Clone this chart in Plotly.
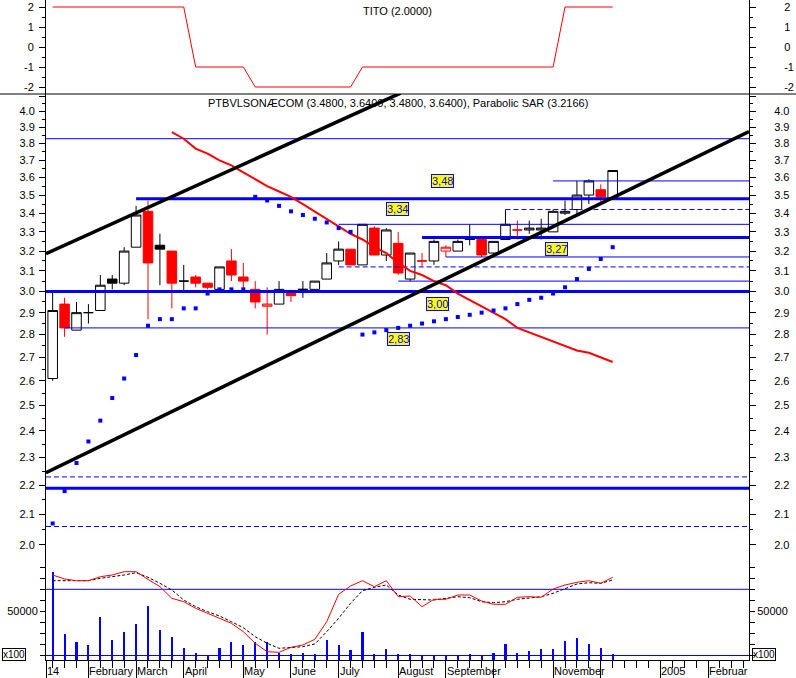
import math
import plotly.graph_objects as go

# ------------------------------------------------------------------ data
OPEN  = [2.61, 2.94, 2.82, 2.90, 2.91, 3.06, 3.04, 3.22, 3.41, 3.23,
         3.20, 3.05, 3.07, 3.04, 3.01, 3.15, 3.07, 3.01, 2.93, 2.94,
         2.99, 3.01, 3.01, 3.06, 3.15, 3.21, 3.13, 3.32, 3.18, 3.24,
         3.06, 3.15, 3.15, 3.20, 3.20, 3.26, 3.26, 3.19, 3.26, 3.31,
         3.31, 3.31, 3.30, 3.40, 3.42, 3.50, 3.53, 3.48]
HIGH  = [3.00, 2.97, 2.95, 2.94, 3.08, 3.08, 3.22, 3.44, 3.47, 3.29,
         3.20, 3.13, 3.08, 3.04, 3.12, 3.21, 3.14, 3.05, 3.02, 3.05,
         2.99, 3.05, 3.05, 3.19, 3.25, 3.21, 3.34, 3.33, 3.32, 3.30,
         3.19, 3.19, 3.26, 3.23, 3.26, 3.34, 3.26, 3.25, 3.42, 3.36,
         3.36, 3.37, 3.42, 3.47, 3.58, 3.59, 3.56, 3.64]
LOW   = [2.60, 2.79, 2.82, 2.85, 2.91, 3.01, 3.03, 3.22, 2.87, 3.03,
         2.92, 3.00, 3.02, 3.01, 3.00, 3.05, 3.01, 2.92, 2.80, 2.94,
         2.95, 2.97, 3.01, 3.06, 3.13, 3.13, 3.13, 3.18, 3.15, 3.08,
         3.05, 3.12, 3.13, 3.17, 3.20, 3.23, 3.17, 3.17, 3.26, 3.26,
         3.29, 3.26, 3.30, 3.39, 3.38, 3.45, 3.45, 3.48]
CLOSE = [2.91, 2.83, 2.90, 2.90, 3.03, 3.04, 3.20, 3.39, 3.14, 3.21,
         3.04, 3.05, 3.04, 3.02, 3.12, 3.08, 3.05, 2.95, 2.94, 3.01,
         2.98, 3.01, 3.05, 3.14, 3.21, 3.13, 3.34, 3.18, 3.31, 3.09,
         3.19, 3.15, 3.25, 3.22, 3.25, 3.26, 3.18, 3.25, 3.34, 3.31,
         3.32, 3.32, 3.41, 3.41, 3.50, 3.58, 3.49, 3.64]

VOLUME = [95200, 24400, 15700, 11900, 44100, 17600, 27000, 35800, 56200, 29000,
          21000, 8200, 2800, 0, 8500, 15300, 11900, 15300, 15700, 3200,
          1700, 2800, 1700, 17600, 11900, 6200, 26700, 1700, 7000, 1700,
          1700, 0, 0, 0, 0, 1700, 0, 2800, 13100, 2800,
          5500, 7400, 7400, 16500, 19900, 13100, 8500, 1700]

SAR = [2.07, 2.18, 2.28, 2.36, 2.44, 2.53, 2.61, 2.71, 2.84, 2.87,
       2.87, 2.92, 2.92, 2.99, 3.01, 3.01, 3.01, 3.49, 3.47, 3.44,
       3.41, 3.39, 3.37, 3.35, 3.32, 3.30, 2.80, 2.81, 2.82, 2.83,
       2.84, 2.85, 2.86, 2.87, 2.88, 2.89, 2.90, 2.91, 2.92, 2.94,
       2.96, 2.97, 2.99, 3.02, 3.06, 3.11, 3.16, 3.22]

MOVING_AVG = [None, None, None, None, None, None, None, None, None, None,
              3.87, 3.83, 3.77, 3.74, 3.70, 3.67, 3.63, 3.59, 3.55, 3.52,
              3.49, 3.45, 3.41, 3.37, 3.33, 3.29, 3.26, 3.22, 3.19, 3.14,
              3.10, 3.08, 3.05, 3.03, 2.99, 2.96, 2.93, 2.90, 2.87, 2.83,
              2.81, 2.79, 2.77, 2.75, 2.73, 2.72, 2.70, 2.68]

OSC_FAST = [85, 81, 79.3, 79.3, 83.3, 85, 88.3, 88.3, 80.7, 73.3,
            61.7, 58.3, 51.7, 46.7, 41.7, 36.7, 28.3, 16.7, 8.3, 7.7,
            12.7, 15, 20.7, 38.3, 65.7, 74, 79.3, 73.3, 79.3, 63.3,
            64, 53.3, 60.7, 60.7, 65, 65, 59, 55.7, 55.7, 62.7,
            63.3, 62.7, 71, 75, 77.7, 79.3, 76.7, 82.7]
OSC_SLOW = [79.3, 79.3, 79.3, 79.3, 81.7, 83.3, 85, 87.3, 82.7, 76.7,
            70, 60, 53.3, 48.3, 44, 38.3, 32.3, 23.3, 16.7, 11.7,
            12.7, 13.3, 16, 28.3, 41.7, 56.7, 69.3, 72.7, 75, 65,
            60.7, 60.7, 60, 61.7, 63.3, 62.3, 58.3, 57.3, 58.3, 60.7,
            61.7, 63.3, 66.7, 71.7, 76, 77.3, 76.7, 80]
OSC_LEVEL = 70.7

TITO = [2, 2, 2, 2, 2, 2, 2, 2, 2, 2,
        2, 2, -1, -1, -1, -1, -1, -2, -2, -2,
        -2, -2, -2, -2, -2, -2, -1, -1, -1, -1,
        -1, -1, -1, -1, -1, -1, -1, -1, -1, -1,
        -1, -1, -1, 2, 2, 2, 2, 2]

# horizontal support / resistance levels: (price, first bar or None = whole width)
LEVELS_THICK = [(3.48, 7), (3.27, 31), (3.00, None), (2.19, None)]
LEVELS_THIN = [(3.83, None), (3.58, 42), (3.34, 24), (3.17, 33), (3.05, 29), (2.83, 1)]
LEVELS_DASHED = [(3.42, 38), (3.12, 24), (2.23, None), (2.06, None)]

# labelled levels: (text, price, bar)
LEVEL_LABELS = [("3,48", 3.48, 32.7), ("3,34", 3.34, 28.94), ("3,00", 3.00, 32.3),
                ("2,83", 2.83, 29.02), ("3,27", 3.27, 42.27)]

# trend channel anchor points: (bar, price)
TREND_UPPER = [(-0.56, 3.187), (29.2, 4.12)]
TREND_LOWER = [(-0.56, 2.245), (58.44, 3.874)]

MONTH_BARS = [3, 7, 11, 16, 20, 24, 29, 33, 37, 42, 46, 51, 55]
MONTH_LABELS = ["February", "March", "April", "May", "June", "July", "August",
                "September", "", "November", "", "2005", "Februar"]
FIRST_LABEL = "14"

PRICE_TICKS = [2.0, 2.1, 2.2, 2.3, 2.4, 2.5, 2.6, 2.7, 2.8, 2.9, 3.0,
               3.1, 3.2, 3.3, 3.4, 3.5, 3.6, 3.7, 3.8, 3.9, 4.0, 4.1]
TITO_TICKS = [-2, -1, 0, 1, 2]
VOL_TICKS = [0, 12500, 25000, 37500, 50000, 62500, 75000, 87500, 100000]

TITLE_MAIN = "PTBVLSONÆCOM (3.4800, 3.6400, 3.4800, 3.6400), Parabolic SAR (3.2166)"
TITLE_TITO = "TITO (2.0000)"

# ------------------------------------------------------------------ layout constants
W, H = 796, 678
ML, MR, MT, MB = 46, 47, 0, 18
PH = H - MT - MB            # 660
PW = W - ML - MR            # 703
X_RANGE = [-0.56, 58.44]
D_TITO0 = (PH - 94) / PH
D_VOL1 = (PH - 560) / PH
PRICE_RANGE = [1.9525, 4.114]
TITO_RANGE = [-2.35, 2.35]
VOL_RANGE = [-5114, 108523]
BLUE = "#0000FF"
RED = "#FF0000"
FONT = "Liberation Sans, Arial, sans-serif"
LABEL_SHIFT = [17.5, 15.5, -12.5, -11.5, -11]

N = len(CLOSE)
BARS = list(range(N))

fig = go.Figure()

# ---- empty placeholder traces so that the right-hand mirror axes get their own subplots
for yid in ("y2", "y4", "y6"):
    fig.add_trace(go.Scatter(x=[], y=[], xaxis="x", yaxis=yid, mode="lines",
                             hoverinfo="skip", showlegend=False))

# ---- volume bars (bottom panel)
fig.add_trace(go.Bar(
    x=BARS, y=[v - VOL_RANGE[0] for v in VOLUME], base=VOL_RANGE[0],
    width=0.18, marker=dict(color=BLUE, line=dict(width=0)),
    xaxis="x", yaxis="y5", hoverinfo="skip", showlegend=False))

# ---- oscillator lines
fig.add_trace(go.Scatter(x=[X_RANGE[0], X_RANGE[1]], y=[OSC_LEVEL, OSC_LEVEL], mode="lines",
                         line=dict(color=BLUE, width=1), xaxis="x", yaxis="y7",
                         hoverinfo="skip", showlegend=False))
fig.add_trace(go.Scatter(x=[X_RANGE[0], X_RANGE[1]], y=[0, 0], mode="lines",
                         line=dict(color=BLUE, width=1), xaxis="x", yaxis="y5",
                         hoverinfo="skip", showlegend=False))
fig.add_trace(go.Scatter(x=BARS, y=OSC_SLOW, mode="lines",
                         line=dict(color="black", width=1, dash="3px,2px"),
                         xaxis="x", yaxis="y7", hoverinfo="skip", showlegend=False))
fig.add_trace(go.Scatter(x=BARS, y=OSC_FAST, mode="lines",
                         line=dict(color=RED, width=1),
                         xaxis="x", yaxis="y7", hoverinfo="skip", showlegend=False))

# ---- TITO
fig.add_trace(go.Scatter(x=BARS, y=TITO, mode="lines", line=dict(color=RED, width=1),
                         xaxis="x", yaxis="y", hoverinfo="skip", showlegend=False))

# ---- candles: black when close >= previous close, red otherwise;
#      hollow when close > open, filled when close < open
black_idx = [i for i in BARS if i == 0 or CLOSE[i] >= CLOSE[i - 1]]
red_idx = [i for i in BARS if i > 0 and CLOSE[i] < CLOSE[i - 1]]


def candles(idx, color, fill_down):
    return go.Candlestick(
        x=idx,
        open=[OPEN[i] for i in idx], high=[HIGH[i] for i in idx],
        low=[LOW[i] for i in idx], close=[CLOSE[i] for i in idx],
        increasing=dict(line=dict(color=color, width=1), fillcolor="white"),
        decreasing=dict(line=dict(color=color, width=1), fillcolor=fill_down),
        whiskerwidth=0, xaxis="x", yaxis="y3", hoverinfo="skip", showlegend=False)


fig.add_trace(candles(black_idx, "black", "black"))
fig.add_trace(candles(red_idx, RED, RED))

# ---- level lines
def level_trace(price, start, width, dash=None):
    x0 = X_RANGE[0] if start is None else start
    return go.Scatter(x=[x0, X_RANGE[1]], y=[price, price], mode="lines",
                      line=dict(color=BLUE, width=width, dash=dash),
                      xaxis="x", yaxis="y3", hoverinfo="skip", showlegend=False)


for p, s in LEVELS_THIN:
    fig.add_trace(level_trace(p, s, 1))
for p, s in LEVELS_DASHED:
    fig.add_trace(level_trace(p, s, 1, "5px,3px"))
for p, s in LEVELS_THICK:
    fig.add_trace(level_trace(p, s, 3))

# ---- moving average
fig.add_trace(go.Scatter(x=BARS, y=MOVING_AVG, mode="lines", line=dict(color=RED, width=2),
                         xaxis="x", yaxis="y3", hoverinfo="skip", showlegend=False,
                         connectgaps=False))

# ---- trend channel
for tl in (TREND_UPPER, TREND_LOWER):
    fig.add_trace(go.Scatter(x=[p[0] for p in tl], y=[p[1] for p in tl], mode="lines",
                             line=dict(color="black", width=3.5),
                             xaxis="x", yaxis="y3", hoverinfo="skip", showlegend=False))

# ---- parabolic SAR
fig.add_trace(go.Scatter(x=BARS, y=SAR, mode="markers",
                         marker=dict(symbol="square", size=4, color=BLUE, line=dict(width=0)),
                         xaxis="x", yaxis="y3", hoverinfo="skip", showlegend=False))

# ------------------------------------------------------------------ axes
common_y = dict(showgrid=False, zeroline=False, showline=True, linecolor="black", linewidth=1,
                ticks="outside", tickcolor="black", tickwidth=1, fixedrange=True,
                automargin=False, ticklabeloverflow="allow",
                tickfont=dict(family=FONT, size=11, color="black"))

price_minor = [round(t + 0.05, 2) for t in PRICE_TICKS]
price_text = ["%.1f" % t if t <= 4.0 else "" for t in PRICE_TICKS]
tito_text = [str(t) for t in TITO_TICKS]
tito_minor = [t + 0.5 for t in TITO_TICKS[:-1]]
vol_text = ["50000" if v == 50000 else "" for v in VOL_TICKS]
price_log_range = [math.log10(PRICE_RANGE[0]), math.log10(PRICE_RANGE[1])]

fig.update_layout(
    width=W, height=H, autosize=False,
    margin=dict(l=ML, r=MR, t=MT, b=MB, pad=0, autoexpand=False),
    paper_bgcolor="white", plot_bgcolor="white",
    showlegend=False, template="none",
    font=dict(family=FONT, size=11, color="black"),
    boxgap=0.2, boxgroupgap=0,
    bargap=0,
    xaxis=dict(domain=[0, 1], range=X_RANGE, anchor="y5", showgrid=False, zeroline=False,
               showline=True, linecolor="black", linewidth=1, automargin=False,
               ticks="outside", ticklen=18, tickcolor="black", tickwidth=1,
               tickmode="array", tickvals=[X_RANGE[0]] + MONTH_BARS,
               showticklabels=False, fixedrange=True,
               minor=dict(tickmode="array", tickvals=list(range(0, 59)), ticks="outside",
                          ticklen=7, tickcolor="black", tickwidth=1),
               rangeslider=dict(visible=False)),
    yaxis=dict(domain=[D_TITO0, 1], range=TITO_RANGE, anchor="x", side="left",
               tickmode="array", tickvals=TITO_TICKS, ticktext=tito_text, ticklen=6,
               ticklabelstandoff=3,
               minor=dict(tickmode="array", tickvals=tito_minor, ticks="outside", ticklen=3,
                          tickcolor="black"),
               **common_y),
    yaxis2=dict(range=TITO_RANGE, anchor="x", overlaying="y", side="right",
                tickmode="array", tickvals=TITO_TICKS, ticktext=tito_text, ticklen=6,
                ticklabelstandoff=26,
                minor=dict(tickmode="array", tickvals=tito_minor, ticks="outside", ticklen=3,
                           tickcolor="black"),
                **common_y),
    yaxis3=dict(domain=[D_VOL1, D_TITO0], type="log", range=price_log_range, anchor="x",
                side="left", tickmode="array", tickvals=PRICE_TICKS, ticktext=price_text,
                ticklen=6, ticklabelstandoff=2,
                minor=dict(tickmode="array", tickvals=price_minor, ticks="outside", ticklen=3,
                           tickcolor="black"),
                **common_y),
    yaxis4=dict(type="log", range=price_log_range, anchor="x", overlaying="y3", side="right",
                tickmode="array", tickvals=PRICE_TICKS, ticktext=price_text, ticklen=6,
                ticklabelstandoff=16,
                minor=dict(tickmode="array", tickvals=price_minor, ticks="outside", ticklen=3,
                           tickcolor="black"),
                **common_y),
    yaxis5=dict(domain=[0, D_VOL1], range=VOL_RANGE, anchor="x", side="left",
                tickmode="array", tickvals=VOL_TICKS, ticktext=vol_text, ticklen=5,
                **common_y),
    yaxis6=dict(range=VOL_RANGE, anchor="x", overlaying="y5", side="right",
                tickmode="array", tickvals=VOL_TICKS, ticktext=vol_text, ticklen=5,
                **common_y),
    yaxis7=dict(range=[0, 100], anchor="x", overlaying="y5", side="right", visible=False,
                fixedrange=True, automargin=False),
)

# ------------------------------------------------------------------ annotations / shapes
ann = []
ann.append(dict(text=TITLE_TITO, xref="paper", yref="paper", x=0.5, y=1 - 3.5 / PH,
                xanchor="center", yanchor="top", showarrow=False,
                font=dict(family=FONT, size=11, color="black")))
ann.append(dict(text=TITLE_MAIN, xref="paper", yref="paper", x=0.5, y=(PH - 95.5) / PH,
                xanchor="center", yanchor="top", showarrow=False,
                font=dict(family=FONT, size=11, color="black")))

for b, lab in zip([X_RANGE[0]] + MONTH_BARS, [FIRST_LABEL] + MONTH_LABELS):
    if lab:
        ann.append(dict(text=lab, xref="x", yref="paper", x=b, y=-2.5 / PH,
                        xanchor="left", yanchor="top", showarrow=False, xshift=-1,
                        font=dict(family=FONT, size=11, color="black")))

for (txt, price, bar), sh in zip(LEVEL_LABELS, LABEL_SHIFT):
    ann.append(dict(text=txt, xref="x", yref="y3", x=bar, y=math.log10(price), yshift=sh,
                    xanchor="center", yanchor="middle", showarrow=False,
                    bgcolor="#FFFF00", bordercolor=BLUE, borderwidth=1, borderpad=0,
                    font=dict(family=FONT, size=11, color=BLUE)))

for xp in [(2 - ML) / PW, (752 - ML) / PW]:
    ann.append(dict(text="x100", xref="paper", yref="paper", x=xp, y=(PH - 654) / PH,
                    xanchor="left", yanchor="middle", showarrow=False,
                    bordercolor="black", borderwidth=1, borderpad=0,
                    font=dict(family=FONT, size=10, color="black")))

fig.update_layout(
    annotations=ann,
    shapes=[dict(type="line", xref="paper", yref="paper", x0=-ML / PW, x1=1 + MR / PW,
                 y0=D_TITO0, y1=D_TITO0, line=dict(color="black", width=1))],
)

fig.write_html("out.html", include_plotlyjs=True, config={"displayModeBar": False},
               post_script="document.body.style.margin='0';"
                           "document.body.style.overflow='hidden';")
